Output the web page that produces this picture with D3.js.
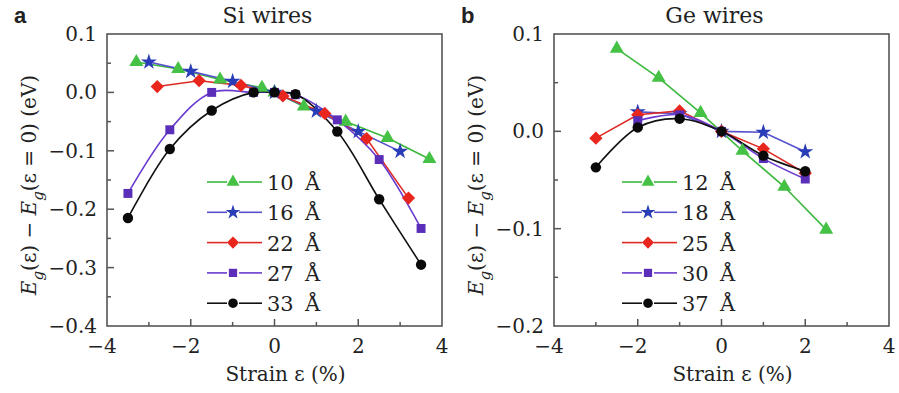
<!DOCTYPE html>
<html>
<head>
<meta charset="utf-8">
<script src="https://cdn.jsdelivr.net/npm/d3@7/dist/d3.min.js"></script>
<style>
  body { margin: 0; background: #fff; }
  svg { display: block; }
  text { font-family: "DejaVu Serif", "Liberation Serif", serif; fill: #222; }
</style>
</head>
<body>
<svg id="chart" width="899" height="393"></svg>
<script>
// Si wires (panel a): strain (%) and band gap change (eV)
var siStrain10 = [-3.3, -2.3, -1.3, -0.3, 0, 0.7, 1.7, 2.7, 3.7];
var siGap10 = [0.052, 0.040, 0.022, 0.008, 0, -0.024, -0.050, -0.078, -0.114];
var siStrain16 = [-3, -2, -1, 0, 1, 2, 3];
var siGap16 = [0.052, 0.036, 0.019, 0, -0.032, -0.067, -0.101];
var siStrain22 = [-2.8, -1.8, -0.8, 0.2, 1.2, 2.2, 3.2];
var siGap22 = [0.010, 0.020, 0.012, -0.006, -0.036, -0.079, -0.181];
var siStrain27 = [-3.5, -2.5, -1.5, -0.5, 0, 0.5, 1.5, 2.5, 3.5];
var siGap27 = [-0.173, -0.064, 0.000, 0.000, 0, -0.004, -0.047, -0.115, -0.233];
var siStrain33 = [-3.5, -2.5, -1.5, -0.5, 0, 0.5, 1.5, 2.5, 3.5];
var siGap33 = [-0.215, -0.097, -0.031, 0.000, 0, -0.003, -0.067, -0.183, -0.295];

// Ge wires (panel b)
var geStrain12 = [-2.5, -1.5, -0.5, 0.5, 1.5, 2.5];
var geGap12 = [0.085, 0.055, 0.019, -0.020, -0.057, -0.101];
var geStrain18 = [-2, -1, 0, 1, 2];
var geGap18 = [0.020, 0.018, 0, -0.001, -0.021];
var geStrain25 = [-3, -2, -1, 0, 1, 2];
var geGap25 = [-0.007, 0.017, 0.021, 0, -0.018, -0.043];
var geStrain30 = [-2, -1, 0, 1, 2];
var geGap30 = [0.011, 0.017, 0, -0.028, -0.049];
var geStrain37 = [-3, -2, -1, 0, 1, 2];
var geGap37 = [-0.037, 0.004, 0.013, 0, -0.025, -0.041];

var siLabels = ['10', '16', '22', '27', '33'];
var geLabels = ['12', '18', '25', '30', '37'];

var xTicks = [-4, -2, 0, 2, 4];
var siYTicks = [0.1, 0.0, -0.1, -0.2, -0.3, -0.4];
var geYTicks = [0.1, 0.0, -0.1, -0.2];

// marker styles shared by both panels, one per diameter rank
var styles = [
  { shape: d3.symbolTriangle, size: 85, rot: 0, fill: '#45c145', line: '#3cb83c', smooth: false },
  { shape: d3.symbolStar, size: 80, rot: 0, fill: '#2a3db8', line: '#5552cc', smooth: false },
  { shape: d3.symbolSquare, size: 88, rot: 45, fill: '#e8261e', line: '#dd2a24', smooth: false },
  { shape: d3.symbolSquare, size: 80, rot: 0, fill: '#5a2eb8', line: '#6a3bd0', smooth: true },
  { shape: d3.symbolCircle, size: 85, rot: 0, fill: '#0a0a0a', line: '#111111', smooth: true }
];

var fmtMinus = function(s) { return s.replace('-', '\u2212'); };

var svg = d3.select('#chart');

function drawPanel(p) {
  var x = d3.scaleLinear().domain([-4, 4]).range([p.left, p.right]);
  var y = d3.scaleLinear().domain(p.yDomain).range([p.top, p.bottom]);
  var g = svg.append('g');

  // inward ticks, minor halfway between majors
  var xMinor = d3.range(-3, 4, 2);
  var yMinor = d3.range(p.yDomain[1] + 0.05, p.yDomain[0], 0.1).map(function(v) { return +v.toFixed(3); });

  g.selectAll('.xt').data(xTicks.slice(1, -1)).enter().append('line')
    .attr('x1', x).attr('x2', x).attr('y1', p.bottom).attr('y2', p.bottom - 7)
    .attr('stroke', '#555').attr('stroke-width', 1.5);
  g.selectAll('.xm').data(xMinor).enter().append('line')
    .attr('x1', x).attr('x2', x).attr('y1', p.bottom).attr('y2', p.bottom - 4)
    .attr('stroke', '#555').attr('stroke-width', 1.5);
  g.selectAll('.yt').data(p.yTicks.slice(1, -1)).enter().append('line')
    .attr('y1', y).attr('y2', y).attr('x1', p.left).attr('x2', p.left + 7)
    .attr('stroke', '#555').attr('stroke-width', 1.5);
  g.selectAll('.ym').data(yMinor).enter().append('line')
    .attr('y1', y).attr('y2', y).attr('x1', p.left).attr('x2', p.left + 4)
    .attr('stroke', '#555').attr('stroke-width', 1.5);

  g.append('rect')
    .attr('x', p.left).attr('y', p.top)
    .attr('width', p.right - p.left).attr('height', p.bottom - p.top)
    .attr('fill', 'none').attr('stroke', '#555').attr('stroke-width', 1.6);

  // tick labels
  g.selectAll('.xl').data(xTicks).enter().append('text')
    .attr('x', function(d) { return x(d) + (d < 0 ? -5 : 0); })
    .attr('y', p.bottom + 27)
    .attr('text-anchor', 'middle').attr('font-size', 20)
    .text(function(d) { return fmtMinus(String(d)); });
  g.selectAll('.yl').data(p.yTicks).enter().append('text')
    .attr('x', p.left - 10).attr('y', function(d) { return y(d) + 7; })
    .attr('text-anchor', 'end').attr('font-size', 20)
    .text(function(d) { return fmtMinus(d3.format('.1f')(d)); });

  // axis titles
  g.append('text')
    .attr('x', (p.left + p.right) / 2 + 11).attr('y', p.bottom + 55)
    .attr('text-anchor', 'middle').attr('font-size', 20)
    .text('Strain \u03b5 (%)');

  var yl = g.append('text')
    .attr('transform', 'translate(' + p.yLabelX + ',' + ((p.top + p.bottom) / 2 + 5) + ') rotate(-90)')
    .attr('text-anchor', 'middle').attr('font-size', 20);
  yl.append('tspan').attr('font-style', 'italic').text('E');
  yl.append('tspan').attr('font-style', 'italic').attr('font-size', 15).attr('dy', 7).text('g');
  yl.append('tspan').attr('dy', -7).text('(\u03b5) \u2212 ');
  yl.append('tspan').attr('font-style', 'italic').text('E');
  yl.append('tspan').attr('font-style', 'italic').attr('font-size', 15).attr('dy', 7).text('g');
  yl.append('tspan').attr('dy', -7).text('(\u03b5 = 0)  (eV)');

  g.append('text')
    .attr('x', (p.left + p.right) / 2 - 7).attr('y', 23)
    .attr('text-anchor', 'middle').attr('font-size', 22)
    .text(p.title);
  g.append('text')
    .attr('x', p.left - 93).attr('y', 23)
    .style('font-family', '"Liberation Sans", Arial, sans-serif')
    .attr('font-weight', 'bold').attr('font-size', 22)
    .text(p.letter);

  // series lines first, then markers on top
  p.series.forEach(function(s, i) {
    var st = styles[i];
    var pts = s.x.map(function(v, k) { return [v, s.y[k]]; });
    var line = d3.line()
      .x(function(d) { return x(d[0]); })
      .y(function(d) { return y(d[1]); })
      .curve(st.smooth || (p.smoothBlack && i === 4) ? d3.curveCatmullRom.alpha(0.5) : d3.curveLinear);
    g.append('path').datum(pts)
      .attr('d', line).attr('fill', 'none')
      .attr('stroke', st.line).attr('stroke-width', 1.6);
  });
  p.series.forEach(function(s, i) {
    var st = styles[i];
    var pts = s.x.map(function(v, k) { return [v, s.y[k]]; });
    g.selectAll(null).data(pts).enter().append('path')
      .attr('d', d3.symbol().type(st.shape).size(st.size))
      .attr('transform', function(d) {
        return 'translate(' + x(d[0]) + ',' + y(d[1]) + ') rotate(' + st.rot + ')';
      })
      .attr('fill', st.fill);
  });

  // legend
  p.labels.forEach(function(lab, i) {
    var st = styles[i];
    var ly = p.legendY + i * 30.3;
    var lx = p.legendX;
    g.append('line').attr('x1', lx).attr('x2', lx + 20).attr('y1', ly).attr('y2', ly)
      .attr('stroke', st.line).attr('stroke-width', 1.6);
    g.append('line').attr('x1', lx + 32).attr('x2', lx + 55).attr('y1', ly).attr('y2', ly)
      .attr('stroke', st.line).attr('stroke-width', 1.6);
    g.append('path').attr('d', d3.symbol().type(st.shape).size(st.size * 0.85))
      .attr('transform', 'translate(' + (lx + 26) + ',' + ly + ') rotate(' + st.rot + ')')
      .attr('fill', st.fill);
    g.append('text').attr('x', lx + 60).attr('y', ly + 8).attr('font-size', 21)
      .text(lab);
    g.append('text').attr('x', lx + 98).attr('y', ly + 8).attr('font-size', 21)
      .text('\u00c5');
  });
}

drawPanel({
  left: 107, right: 442, top: 34, bottom: 326,
  yDomain: [0.1, -0.4], yTicks: siYTicks,
  yLabelX: 36, title: 'Si wires', letter: 'a',
  legendX: 207, legendY: 182, labels: siLabels,
  smoothBlack: false,
  series: [
    { x: siStrain10, y: siGap10 },
    { x: siStrain16, y: siGap16 },
    { x: siStrain22, y: siGap22 },
    { x: siStrain27, y: siGap27 },
    { x: siStrain33, y: siGap33 }
  ]
});

drawPanel({
  left: 554, right: 889, top: 34, bottom: 326,
  yDomain: [0.1, -0.2], yTicks: geYTicks,
  yLabelX: 483, title: 'Ge wires', letter: 'b',
  legendX: 622, legendY: 182, labels: geLabels,
  smoothBlack: true,
  series: [
    { x: geStrain12, y: geGap12 },
    { x: geStrain18, y: geGap18 },
    { x: geStrain25, y: geGap25 },
    { x: geStrain30, y: geGap30 },
    { x: geStrain37, y: geGap37 }
  ]
});
</script>
</body>
</html>
